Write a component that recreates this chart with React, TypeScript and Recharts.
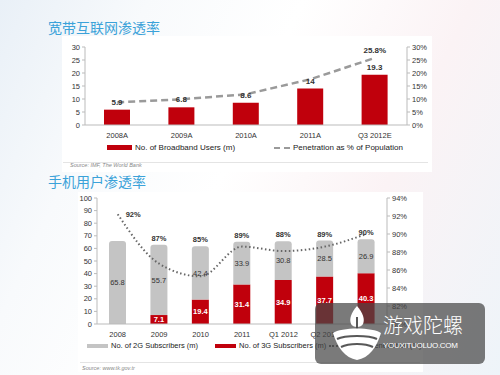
import React from "react";
import { Bar, ComposedChart, LabelList, Line, XAxis, YAxis } from "recharts";

// broadband chart
const broadbandYears = ["2008A", "2009A", "2010A", "2011A", "Q3 2012E"];
const broadbandUsers = [5.9, 6.8, 8.6, 14, 19.3];
const broadbandPenetration = [8.7, 9.9, 11.8, 17.6, 25.8];
const broadbandLeftTicks = [0, 5, 10, 15, 20, 25, 30];
const broadbandRightTicks = [0, 5, 10, 15, 20, 25, 30];

// mobile chart
const mobilePeriods = ["2008", "2009", "2010", "2011", "Q1 2012", "Q2 2012", "Q3 2012"];
const subscribers2G = [65.8, 55.7, 42.4, 33.9, 30.8, 28.5, 26.9];
const subscribers3G = [0, 7.1, 19.4, 31.4, 34.9, 37.7, 40.3];
const mobilePenetration = [92.2, 86.7, 85.3, 88.6, 88.1, 88.6, 90.0];
const mobileLeftTicks = [0, 10, 20, 30, 40, 50, 60, 70, 80, 90, 100];
const mobileRightTicks = [80, 82, 84, 86, 88, 90, 92, 94];

const RED = "#c0000c";
const GREY_BAR = "#c4c4c4";
const FONT = "'Liberation Sans', Arial, sans-serif";
const TITLE = "#3ba2d9";

const broadbandData = broadbandYears.map((year, i) => ({
  year,
  users: broadbandUsers[i],
  pen: broadbandPenetration[i],
  penLast: i === broadbandYears.length - 1 ? broadbandPenetration[i] : null,
}));

const mobileData = mobilePeriods.map((period, i) => ({
  period,
  g2: subscribers2G[i],
  g3: subscribers3G[i],
  g3Label: subscribers3G[i] > 0 ? subscribers3G[i] : null,
  pen: mobilePenetration[i],
  penTop: i === 0 ? null : mobilePenetration[i],
  penSide: i === 0 ? mobilePenetration[i] : null,
}));

const tick = { fontSize: 7.5, fill: "#333", fontFamily: FONT };
const axisLine = { stroke: "#bbb" };

export default function App() {
  return (
    <div
      style={{
        position: "absolute",
        left: 0,
        top: 0,
        width: 500,
        height: 375,
        overflow: "hidden",
        fontFamily: FONT,
        background:
          "linear-gradient(115deg, #e9f0f7 0%, #f8fafc 22%, #ffffff 45%, #fbf3f5 70%, #eef4f9 100%)",
      }}
    >
      {/* white panels behind charts */}
      <div style={{ position: "absolute", left: 62, top: 36, width: 370, height: 136, background: "#fff" }} />
      <div style={{ position: "absolute", left: 78, top: 192, width: 345, height: 180, background: "#fff" }} />

      <div style={{ position: "absolute", left: 48, top: 17, fontSize: 14, color: TITLE, fontFamily: "'Noto Sans CJK SC', sans-serif" }}>
        宽带互联网渗透率
      </div>
      <div style={{ position: "absolute", left: 48, top: 171, fontSize: 14, color: TITLE, fontFamily: "'Noto Sans CJK SC', sans-serif" }}>
        手机用户渗透率
      </div>

      <div style={{ position: "absolute", left: 0, top: 0 }}>
        <ComposedChart
          width={500}
          height={175}
          data={broadbandData}
          margin={{ top: 47, right: 63, left: 55, bottom: 35 }}
          barCategoryGap="30%"
        >
          <XAxis dataKey="year" tick={tick} tickLine={false} axisLine={axisLine} height={15} interval={0} />
          <YAxis
            yAxisId="left"
            width={30}
            domain={[0, 30]}
            ticks={broadbandLeftTicks}
            tick={tick}
            axisLine={axisLine}
            tickLine={{ stroke: "#bbb" }}
            tickSize={3}
            interval={0}
          />
          <YAxis
            yAxisId="right"
            orientation="right"
            width={30}
            domain={[0, 30]}
            ticks={broadbandRightTicks}
            tickFormatter={(v) => `${v}%`}
            tick={tick}
            axisLine={axisLine}
            tickLine={{ stroke: "#bbb" }}
            tickSize={3}
            interval={0}
          />
          <Bar yAxisId="left" dataKey="users" fill={RED} barSize={26} isAnimationActive={false}>
            <LabelList dataKey="users" position="top" offset={5} style={{ fontSize: 8, fontWeight: 700, fill: "#333" }} />
          </Bar>
          <Line
            yAxisId="right"
            dataKey="pen"
            stroke="#9a9a9a"
            strokeWidth={2.5}
            strokeDasharray="7 4"
            dot={false}
            type="linear"
            isAnimationActive={false}
          >
            <LabelList
              dataKey="penLast"
              position="top"
              offset={5}
              formatter={(v: number) => `${v}%`}
              style={{ fontSize: 8, fontWeight: 700, fill: "#333" }}
            />
          </Line>
        </ComposedChart>
      </div>

      {/* legend top */}
      <div style={{ position: "absolute", left: 107, top: 143, display: "flex", alignItems: "center", fontSize: 8, color: "#222" }}>
        <div style={{ width: 25, height: 5, background: RED, marginRight: 3 }} />
        No. of Broadband Users (m)
      </div>
      <div style={{ position: "absolute", left: 274, top: 143, display: "flex", alignItems: "center", fontSize: 8, color: "#222" }}>
        <div style={{ width: 16, height: 0, borderTop: "2px dashed #9a9a9a", marginRight: 3 }} />
        Penetration as % of Population
      </div>
      <div style={{ position: "absolute", left: 63, top: 162, width: 365, height: 1, background: "#e4e4e4" }} />
      <div style={{ position: "absolute", left: 70, top: 162, fontSize: 5.5, fontStyle: "italic", color: "#888" }}>
        Source: IMF, The World Bank
      </div>

      <div style={{ position: "absolute", left: 0, top: 170 }}>
        <ComposedChart
          width={500}
          height={190}
          data={mobileData}
          margin={{ top: 28, right: 83, left: 67, bottom: 21 }}
          barCategoryGap="29%"
        >
          <XAxis dataKey="period" tick={tick} tickLine={false} axisLine={axisLine} height={15} interval={0} />
          <YAxis
            yAxisId="left"
            width={30}
            domain={[0, 100]}
            ticks={mobileLeftTicks}
            tick={tick}
            axisLine={axisLine}
            tickLine={{ stroke: "#bbb" }}
            tickSize={3}
            interval={0}
          />
          <YAxis
            yAxisId="right"
            orientation="right"
            width={30}
            domain={[80, 94]}
            ticks={mobileRightTicks}
            tickFormatter={(v) => `${v}%`}
            tick={tick}
            axisLine={axisLine}
            tickLine={{ stroke: "#bbb" }}
            tickSize={3}
            interval={0}
          />
          <Bar yAxisId="left" dataKey="g3" stackId="s" fill={RED} barSize={17} isAnimationActive={false}>
            <LabelList dataKey="g3Label" position="center" style={{ fontSize: 7.5, fontWeight: 700, fill: "#fff" }} />
          </Bar>
          <Bar yAxisId="left" dataKey="g2" stackId="s" fill={GREY_BAR} barSize={17} radius={[3, 3, 0, 0]} isAnimationActive={false}>
            <LabelList dataKey="g2" position="center" style={{ fontSize: 7.5, fill: "#333" }} />
            <LabelList
              dataKey="penTop"
              position="top"
              offset={4}
              formatter={(v: number) => `${Math.round(v)}%`}
              style={{ fontSize: 7.5, fontWeight: 700, fill: "#333" }}
            />
          </Bar>
          <Line
            yAxisId="right"
            dataKey="pen"
            stroke="#666"
            strokeWidth={2}
            strokeDasharray="1.5 2.5"
            dot={false}
            type="monotone"
            isAnimationActive={false}
          >
            <LabelList
              dataKey="penSide"
              position="right"
              offset={8}
              formatter={(v: number) => `${Math.round(v)}%`}
              style={{ fontSize: 7.5, fontWeight: 700, fill: "#333" }}
            />
          </Line>
        </ComposedChart>
      </div>

      {/* legend bottom */}
      <div style={{ position: "absolute", left: 87, top: 341, display: "flex", alignItems: "center", fontSize: 7.5, color: "#222", whiteSpace: "nowrap" }}>
        <div style={{ width: 21, height: 4, background: GREY_BAR, marginRight: 3 }} />
        No. of 2G Subscribers (m)
        <div style={{ width: 21, height: 4, background: RED, marginLeft: 17, marginRight: 3 }} />
        No. of 3G Subscribers (m)
        <div style={{ width: 13, height: 0, borderTop: "2px dotted #666", marginLeft: 3, marginRight: 3 }} />
        Mobile Penetration (%)
      </div>
      <div style={{ position: "absolute", left: 80, top: 362, width: 340, height: 1, background: "#e4e4e4" }} />
      <div style={{ position: "absolute", left: 82, top: 365, fontSize: 5.5, fontStyle: "italic", color: "#888" }}>
        Source: www.tk.gov.tr
      </div>

      {/* watermark */}
      <div
        style={{
          position: "absolute",
          left: 315,
          top: 303,
          width: 170,
          height: 61,
          borderRadius: 6,
          background: "rgba(70,70,70,0.72)",
        }}
      >
        <svg width={60} height={61} style={{ position: "absolute", left: 12, top: 0 }}>
          <path d="M30 3 C24 10 22 16 24 21 C26 25 34 25 36 21 C38 16 36 10 30 3 Z" fill="#fff" />
          <path d="M30 14 L30 26" stroke="rgba(70,70,70,0.9)" strokeWidth={2} />
          <path d="M6 30 C14 24 46 24 54 30 C50 44 42 55 30 57 C18 55 10 44 6 30 Z" fill="#fff" />
          <path d="M10 36 C18 32 42 32 50 36" stroke="rgba(70,70,70,0.9)" strokeWidth={2} fill="none" />
          <path d="M14 44 C22 40 38 40 46 44" stroke="rgba(70,70,70,0.9)" strokeWidth={2} fill="none" />
        </svg>
        <div
          style={{
            position: "absolute",
            left: 68,
            top: 11,
            fontSize: 20,
            lineHeight: "22px",
            color: "#fff",
            fontFamily: "'Noto Sans CJK SC', sans-serif",
            fontWeight: 300,
          }}
        >
          游戏陀螺
        </div>
        <div style={{ position: "absolute", left: 68, top: 38, fontSize: 8, color: "#fff", letterSpacing: -0.3 }}>
          YOUXITUOLUO.COM
        </div>
      </div>
    </div>
  );
}
